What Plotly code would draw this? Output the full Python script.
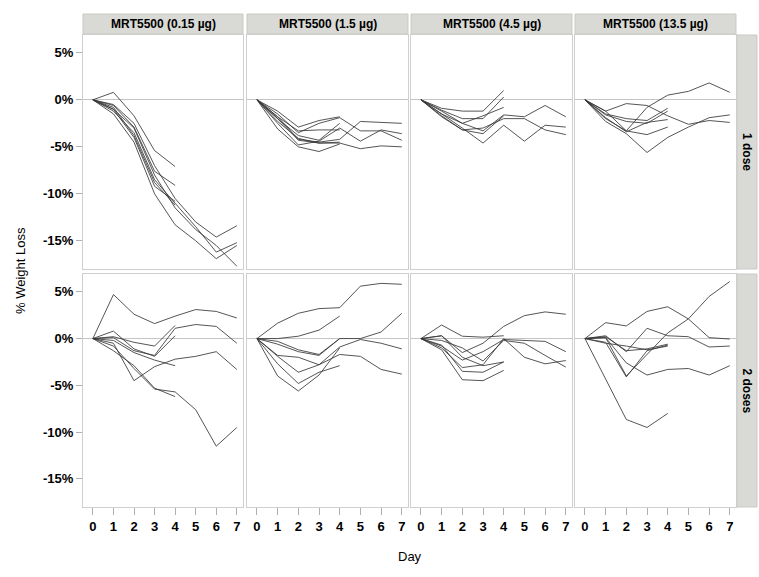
import plotly.graph_objects as go

# ---- data -----------------------------------------------------------------
DAYS = [0, 1, 2, 3, 4, 5, 6, 7]
DOSE_LABELS = ["MRT5500 (0.15 µg)", "MRT5500 (1.5 µg)", "MRT5500 (4.5 µg)", "MRT5500 (13.5 µg)"]
REGIMEN_LABELS = ["1 dose", "2 doses"]
Y_TICKS = [5, 0, -5, -10, -15]
Y_TICK_TEXT = ["5%", "0%", "-5%", "-10%", "-15%"]

# % weight change per animal (animals sampled at day 4 have 5 values)
one_dose_015 = [
    [0, -0.5, -2.5, -7.0, -10.5, -13.0, -14.6, -13.4],
    [0, -1.2, -3.5, -8.5, -11.0, -13.5, -16.2, -15.2],
    [0, -1.5, -4.5, -10.0, -13.3, -15.0, -16.9, -15.5],
    [0, -1.0, -3.0, -8.0, -11.5, -13.8, -15.5, -17.7],
    [0, 0.8, -1.7, -5.4, -7.1],
    [0, -0.6, -2.9, -7.6, -9.1],
    [0, -0.8, -3.8, -8.8, -11.2],
    [0, -1.0, -4.0, -9.2, -10.8],
]
one_dose_15 = [
    [0, -1.5, -3.5, -2.5, -1.9, -3.3, -3.3, -4.3],
    [0, -1.8, -4.2, -4.5, -4.2, -2.3, -2.4, -2.5],
    [0, -2.0, -4.3, -4.6, -4.6, -5.2, -4.9, -5.0],
    [0, -2.5, -4.8, -4.4, -3.0, -4.4, -3.2, -3.6],
    [0, -1.2, -2.9, -2.2, -1.8],
    [0, -1.8, -3.3, -3.2, -3.2],
    [0, -2.0, -3.8, -4.3, -2.5],
    [0, -2.3, -4.1, -4.6, -4.5],
    [0, -3.1, -5.0, -5.5, -4.7],
]
one_dose_45 = [
    [0, -1.2, -2.5, -3.3, -1.6, -1.8, -0.6, -1.8],
    [0, -1.5, -3.0, -4.6, -2.7, -4.4, -2.7, -2.9],
    [0, -1.8, -3.2, -3.0, -2.0, -2.0, -3.2, -3.7],
    [0, -0.9, -1.2, -1.2, 1.0],
    [0, -1.1, -2.0, -2.0, 0.3],
    [0, -1.5, -2.5, -1.7, -0.8],
    [0, -1.7, -3.2, -3.6, -1.7],
]
one_dose_135 = [
    [0, -1.2, -3.3, -0.8, 0.5, 0.9, 1.8, 0.8],
    [0, -2.3, -3.6, -5.6, -4.0, -2.9, -1.9, -1.6],
    [0, -1.2, -0.4, -0.6, -1.7, -2.6, -2.2, -2.4],
    [0, -1.5, -2.0, -2.2, -0.9],
    [0, -1.6, -2.3, -2.5, -1.2],
    [0, -1.9, -3.4, -2.4, -2.1],
    [0, -2.0, -3.3, -3.7, -2.9],
]
two_doses_015 = [
    [0, 4.7, 2.6, 1.6, 2.4, 3.1, 2.9, 2.2],
    [0, 0.1, -1.3, -1.8, 1.1, 1.5, 1.3, -0.5],
    [0, -0.5, -4.5, -3.0, -2.2, -1.9, -1.4, -3.3],
    [0, -0.8, -3.2, -5.4, -5.7, -7.6, -11.5, -9.5],
    [0, 0.2, -0.4, -0.8, 1.4],
    [0, 0.8, -1.1, -1.9, 0.3],
    [0, -0.2, -1.5, -2.3, -2.9],
    [0, -1.3, -2.9, -5.3, -6.2],
]
two_doses_15 = [
    [0, 1.65, 2.7, 3.2, 3.3, 5.6, 5.9, 5.8],
    [0, -0.3, -1.2, -1.7, 0.0, 0.0, 0.7, 2.7],
    [0, -1.9, -3.6, -2.8, -0.9, -0.1, -0.5, -1.1],
    [0, -1.8, -2.0, -2.8, -1.7, -1.9, -3.3, -3.8],
    [0, 0.0, 0.25, 0.9, 2.4],
    [0, -0.6, -1.4, -1.8, 0.0],
    [0, -4.0, -5.6, -3.9, -1.0],
    [0, -2.7, -4.8, -3.6, -2.9],
]
two_doses_45 = [
    [0, 0.3, -1.5, -0.5, 1.3, 2.45, 2.85, 2.6],
    [0, -0.8, -2.3, -1.4, -0.1, -0.2, -0.3, -1.4],
    [0, -0.2, -1.0, -2.4, -0.2, -0.5, -1.8, -3.05],
    [0, -1.0, -3.1, -2.8, 0.0, -2.0, -2.7, -2.35],
    [0, 1.45, 0.25, 0.15, 0.3],
    [0, 0.3, -2.0, -2.9, -2.5],
    [0, -1.2, -4.4, -4.5, -3.4],
    [0, -0.7, -3.5, -3.6, -2.5],
]
two_doses_135 = [
    [0, 0.1, -4.0, -1.7, 0.6, 2.1, 4.5, 6.1],
    [0, 1.7, 1.35, 2.9, 3.4, 2.1, 0.1, -0.05],
    [0, 0.3, -1.4, 1.1, 0.3, 0.2, -0.9, -0.8],
    [0, 0.1, -2.6, -3.9, -3.3, -3.2, -3.9, -2.9],
    [0, -4.3, -8.65, -9.5, -8.0],
    [0, 0.2, -1.3, -1.1, -0.6],
    [0, -0.4, -4.1, -1.3, -0.7],
    [0, -0.5, -0.8, -1.2, -0.8],
]

PANELS = [
    [one_dose_015, one_dose_15, one_dose_45, one_dose_135],
    [two_doses_015, two_doses_15, two_doses_45, two_doses_135],
]

# ---- layout geometry (pixels in a 759 x 577 page) --------------------------
W, H = 759, 577
COL_PX = [(83, 243), (247, 408), (411, 572), (575, 736)]
ROW_PX = [(35, 269), (274, 507)]
TOP_STRIP_PX = (14, 34)
RIGHT_STRIP_PX = (737, 757)

STRIP_FILL = "#d9dad5"
STRIP_EDGE = "#c9cac5"
FRAME = "#cfcfcf"
LINE_COLOR = "rgba(55,55,55,0.85)"
NARROW = "Liberation Sans Narrow, Arial Narrow, Liberation Sans, Arial, sans-serif"
REGULAR = "Liberation Sans, Arial, sans-serif"


def fx(px):
    return px / W


def fy(py):
    return 1 - py / H


fig = go.Figure()
layout = dict(
    width=W, height=H,
    margin=dict(l=0, r=0, t=0, b=0),
    paper_bgcolor="white", plot_bgcolor="white",
    showlegend=False,
)

idx = 0
for r, row in enumerate(PANELS):
    for c, series in enumerate(row):
        idx += 1
        sx = "" if idx == 1 else str(idx)
        for vals in series:
            fig.add_trace(go.Scatter(
                x=DAYS[:len(vals)], y=vals, mode="lines",
                line=dict(color=LINE_COLOR, width=1),
                xaxis="x" + sx, yaxis="y" + sx, hoverinfo="skip",
            ))
        x0, x1 = COL_PX[c]
        y0, y1 = ROW_PX[r]
        bottom = r == 1
        left = c == 0
        layout["xaxis" + sx] = dict(
            domain=[fx(x0), fx(x1)], anchor="y" + sx,
            range=[-0.48, 7.3], showgrid=False, zeroline=False,
            showline=True, mirror=True, linecolor=FRAME, linewidth=1,
            tickmode="array", tickvals=DAYS,
            ticktext=[str(d) for d in DAYS] if bottom else [""] * len(DAYS),
            showticklabels=bottom,
            ticks="outside" if bottom else "", ticklen=7, tickcolor="#b0b0b0",
            tickfont=dict(family=NARROW, size=13, color="black", weight="bold"),
        )
        layout["yaxis" + sx] = dict(
            domain=[fy(y1), fy(y0)], anchor="x" + sx,
            range=[-18.0, 6.9], showgrid=False,
            zeroline=True, zerolinecolor="#c4c4c4", zerolinewidth=1,
            showline=True, mirror=True, linecolor=FRAME, linewidth=1,
            tickmode="array", tickvals=Y_TICKS, ticktext=Y_TICK_TEXT,
            showticklabels=left,
            ticks="outside" if left else "", ticklen=6, tickcolor="#b0b0b0",
            tickfont=dict(family=NARROW, size=13, color="black", weight="bold"),
        )

shapes = []
annotations = []
for c, label in enumerate(DOSE_LABELS):
    x0, x1 = COL_PX[c]
    shapes.append(dict(
        type="rect", xref="paper", yref="paper",
        x0=fx(x0), x1=fx(x1), y0=fy(TOP_STRIP_PX[1]), y1=fy(TOP_STRIP_PX[0]),
        fillcolor=STRIP_FILL, line=dict(color=STRIP_EDGE, width=1), layer="below",
    ))
    annotations.append(dict(
        text=label, xref="paper", yref="paper",
        x=fx((x0 + x1) / 2), y=fy(sum(TOP_STRIP_PX) / 2),
        showarrow=False, xanchor="center", yanchor="middle",
        font=dict(family=REGULAR, size=12, color="black", weight="bold"),
    ))
for r, label in enumerate(REGIMEN_LABELS):
    y0, y1 = ROW_PX[r]
    shapes.append(dict(
        type="rect", xref="paper", yref="paper",
        x0=fx(RIGHT_STRIP_PX[0]), x1=fx(RIGHT_STRIP_PX[1]), y0=fy(y1), y1=fy(y0),
        fillcolor=STRIP_FILL, line=dict(color=STRIP_EDGE, width=1), layer="below",
    ))
    annotations.append(dict(
        text=label, xref="paper", yref="paper",
        x=fx(sum(RIGHT_STRIP_PX) / 2), y=fy((y0 + y1) / 2),
        showarrow=False, xanchor="center", yanchor="middle", textangle=90,
        font=dict(family=REGULAR, size=12, color="black", weight="bold"),
    ))

annotations.append(dict(
    text="% Weight Loss", xref="paper", yref="paper",
    x=fx(20), y=fy(271), showarrow=False, textangle=-90,
    xanchor="center", yanchor="middle",
    font=dict(family=NARROW, size=13, color="black"),
))
annotations.append(dict(
    text="Day", xref="paper", yref="paper",
    x=fx(410), y=fy(556), showarrow=False,
    xanchor="center", yanchor="middle",
    font=dict(family=NARROW, size=13, color="black"),
))

layout["shapes"] = shapes
layout["annotations"] = annotations
fig.update_layout(**layout)
fig.write_html("out.html")
